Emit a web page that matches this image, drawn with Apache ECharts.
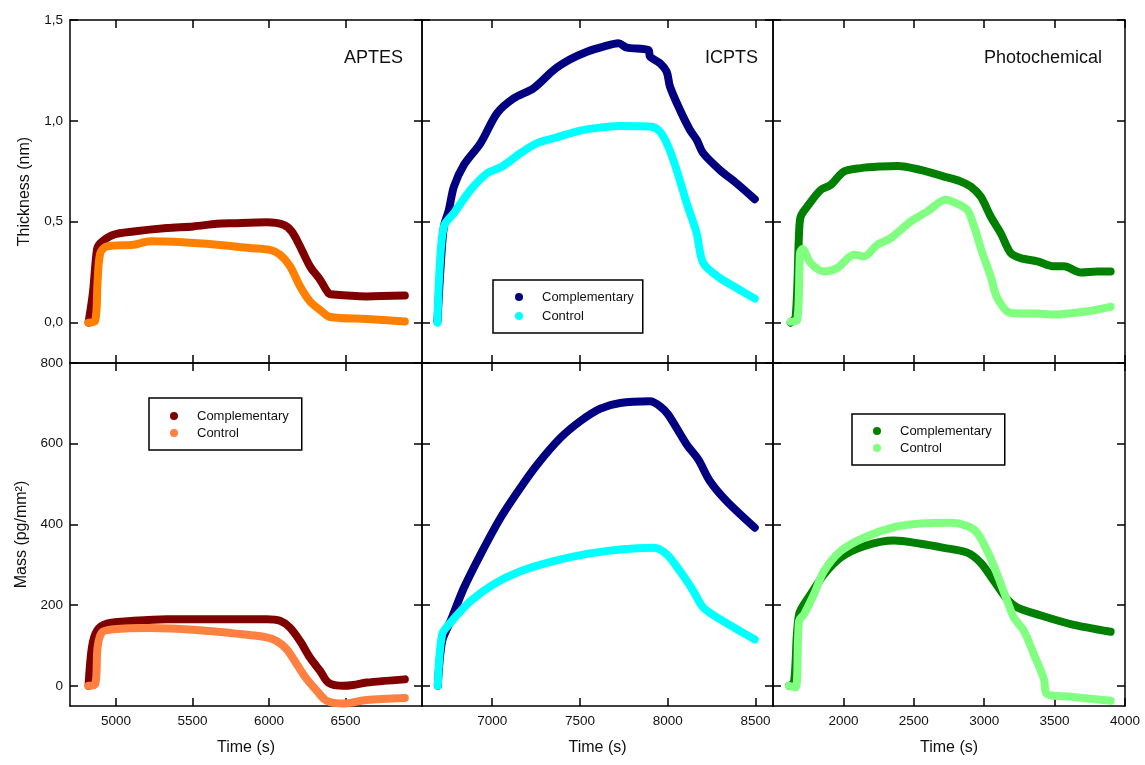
<!DOCTYPE html>
<html><head><meta charset="utf-8">
<script src="https://cdn.jsdelivr.net/npm/echarts@6/dist/echarts.min.js"></script>
<style>html,body{margin:0;padding:0;background:#fff}#c{width:1145px;height:765px}</style>
</head><body><div id="c"></div><script>
// ---------- DATA ----------
// APTES thickness (nm)
const aptesThkCompT = [4821, 4850, 4876, 4898, 4984, 5115, 5333, 5506, 5659, 5768, 5986, 6094, 6149, 6203, 6268, 6334, 6388, 6420, 6638, 6888];
const aptesThkCompV = [0, 0.15, 0.36, 0.394, 0.436, 0.452, 0.469, 0.477, 0.49, 0.493, 0.497, 0.485, 0.452, 0.378, 0.279, 0.213, 0.147, 0.139, 0.130, 0.134];
const aptesThkCtrlT = [4821, 4865, 4880, 4898, 4941, 5115, 5224, 5441, 5659, 5876, 6007, 6072, 6138, 6203, 6268, 6345, 6399, 6638, 6888];
const aptesThkCtrlV = [0, 0.01, 0.2, 0.345, 0.378, 0.386, 0.403, 0.398, 0.386, 0.37, 0.361, 0.337, 0.279, 0.18, 0.105, 0.056, 0.028, 0.018, 0.006];
// APTES mass (pg/mm2)
const aptesMassCompT = [4821, 4843, 4876, 4941, 5115, 5333, 5986, 6072, 6138, 6203, 6268, 6334, 6388, 6486, 6551, 6638, 6888];
const aptesMassCompV = [0, 95, 136, 154, 161, 165, 165, 161, 144, 111, 70, 37, 8, 0, 2, 8, 16];
const aptesMassCtrlT = [4821, 4865, 4880, 4908, 4984, 5224, 5550, 5768, 5986, 6050, 6115, 6181, 6246, 6312, 6377, 6486, 6638, 6888];
const aptesMassCtrlV = [0, 4, 95, 132, 140, 143, 138, 130, 120, 111, 91, 54, 17, -12, -37, -44, -35, -30];
// ICPTS thickness
const icptsThkCompT = [6688, 6706, 6725, 6753, 6782, 6839, 6934, 7028, 7123, 7236, 7350, 7445, 7540, 7634, 7719, 7767, 7890, 7899, 7956, 7994, 8013, 8070, 8127, 8165, 8202, 8297, 8392, 8496];
const icptsThkCompV = [0.006, 0.279, 0.477, 0.559, 0.675, 0.782, 0.89, 1.038, 1.112, 1.162, 1.252, 1.305, 1.343, 1.368, 1.385, 1.363, 1.351, 1.318, 1.286, 1.244, 1.17, 1.054, 0.955, 0.906, 0.84, 0.757, 0.691, 0.612];
const icptsThkCtrlT = [6688, 6701, 6725, 6782, 6877, 6972, 7057, 7161, 7256, 7350, 7502, 7634, 7729, 7899, 7956, 8003, 8051, 8108, 8165, 8202, 8297, 8392, 8496];
const icptsThkCtrlV = [0, 0.279, 0.477, 0.543, 0.658, 0.741, 0.774, 0.84, 0.89, 0.914, 0.952, 0.969, 0.975, 0.972, 0.947, 0.873, 0.757, 0.593, 0.444, 0.296, 0.221, 0.172, 0.119];
// ICPTS mass
const icptsMassCompT = [6690, 6715, 6763, 6839, 6934, 7047, 7161, 7256, 7388, 7502, 7616, 7729, 7899, 7956, 8003, 8108, 8174, 8241, 8335, 8496];
const icptsMassCompV = [0, 111, 161, 243, 326, 416, 491, 548, 614, 656, 687, 701, 705, 693, 672, 598, 561, 507, 458, 392];
const icptsMassCtrlT = [6690, 6715, 6763, 6877, 7009, 7161, 7350, 7540, 7729, 7918, 7994, 8070, 8146, 8202, 8297, 8411, 8496];
const icptsMassCtrlV = [0, 128, 157, 210, 252, 284, 309, 327, 338, 342, 326, 284, 235, 194, 165, 136, 115];
// Photochemical thickness
const photoThkCompT = [1626, 1661, 1685, 1697, 1744, 1839, 1910, 2004, 2123, 2265, 2384, 2549, 2714, 2833, 2904, 2975, 3046, 3117, 3188, 3259, 3378, 3496, 3567, 3685, 3804, 3898];
const photoThkCompV = [0, 0.03, 0.444, 0.526, 0.576, 0.658, 0.683, 0.749, 0.766, 0.774, 0.777, 0.757, 0.724, 0.7, 0.675, 0.625, 0.526, 0.444, 0.345, 0.32, 0.304, 0.279, 0.279, 0.249, 0.254, 0.254];
const photoThkCtrlT = [1626, 1673, 1692, 1709, 1767, 1862, 1957, 2075, 2146, 2241, 2336, 2478, 2597, 2726, 2810, 2880, 2928, 2987, 3046, 3093, 3188, 3378, 3496, 3733, 3898];
const photoThkCtrlV = [0.005, 0.015, 0.345, 0.365, 0.296, 0.254, 0.271, 0.337, 0.328, 0.386, 0.419, 0.501, 0.551, 0.609, 0.589, 0.559, 0.477, 0.345, 0.229, 0.122, 0.048, 0.045, 0.04, 0.056, 0.078];
// Photochemical mass
const photoMassCompT = [1614, 1649, 1685, 1768, 1862, 1981, 2146, 2359, 2549, 2714, 2880, 2975, 3069, 3164, 3235, 3378, 3614, 3898];
const photoMassCompV = [0, 8, 177, 227, 276, 318, 346, 360, 352, 342, 330, 305, 260, 214, 194, 177, 153, 134];
const photoMassCtrlT = [1614, 1661, 1685, 1720, 1791, 1862, 1981, 2146, 2359, 2549, 2762, 2880, 2951, 3022, 3093, 3164, 3211, 3282, 3353, 3424, 3448, 3614, 3898];
const photoMassCtrlV = [0, -4, 161, 177, 227, 284, 334, 367, 393, 402, 404, 396, 379, 334, 276, 210, 169, 136, 78, 17, -21, -27, -37];

// axis ranges and ticks
const xRanges = [[4700, 7000], [6600, 8600], [1500, 4000]];
const xTicks = [[5000, 5500, 6000, 6500], [7000, 7500, 8000, 8500], [2000, 2500, 3000, 3500, 4000]];
const thkRange = [-0.2, 1.5];
const thkTicks = [0, 0.5, 1.0, 1.5];
const massRange = [-50, 800];
const massTicks = [0, 200, 400, 600, 800];
const panelTitles = ['APTES', 'ICPTS', 'Photochemical'];
const legendLabels = ['Complementary', 'Control'];

// ---------- CHART ----------
const FONT = 'Liberation Sans, Arial, Helvetica, sans-serif';
const lefts = [70, 422, 773], widths = [352, 351, 352], tops = [20, 363], H = 343;
const grids = [], xAxes = [], yAxes = [];
const axisLine = { show: true, onZero: false, lineStyle: { color: '#000', width: 1.5 } };
function tick(vals) { return { show: true, inside: true, length: 8, lineStyle: { color: '#000', width: 1.5 }, customValues: vals }; }
for (let r = 0; r < 2; r++) {
  for (let c = 0; c < 3; c++) {
    const gi = r * 3 + c;
    grids.push({ left: lefts[c], top: tops[r], width: widths[c], height: H, containLabel: false });
    const [xmin, xmax] = xRanges[c];
    const bottomRow = r === 1;
    xAxes.push({
      type: 'value', gridIndex: gi, position: 'bottom', min: xmin, max: xmax,
      axisLine, axisTick: tick(xTicks[c]), splitLine: { show: false },
      axisLabel: { show: bottomRow, customValues: xTicks[c], margin: 8, fontSize: 13.5, color: '#111', fontFamily: FONT, formatter: v => String(v) },
      name: bottomRow ? 'Time (s)' : '', nameLocation: 'middle', nameGap: 34,
      nameTextStyle: { fontSize: 16, color: '#111', fontFamily: FONT }
    });
    xAxes.push({
      type: 'value', gridIndex: gi, position: 'top', min: xmin, max: xmax,
      axisLine, axisTick: tick(xTicks[c]), splitLine: { show: false }, axisLabel: { show: false }
    });
    const yr = r === 0 ? thkRange : massRange;
    const yt = r === 0 ? thkTicks : massTicks;
    yAxes.push({
      type: 'value', gridIndex: gi, position: 'left', min: yr[0], max: yr[1],
      axisLine, axisTick: tick(yt), splitLine: { show: false },
      axisLabel: {
        show: c === 0, customValues: yt, margin: 7, fontSize: 13.5, color: '#111', fontFamily: FONT,
        formatter: r === 0 ? (v => v.toFixed(1).replace('.', ',')) : (v => String(v))
      },
      name: c === 0 ? (r === 0 ? 'Thickness (nm)' : 'Mass (pg/mm²)') : '',
      nameLocation: 'middle', nameGap: r === 0 ? 37 : 40,
      nameTextStyle: { fontSize: 16, color: '#111', fontFamily: FONT }
    });
    yAxes.push({
      type: 'value', gridIndex: gi, position: 'right', min: yr[0], max: yr[1],
      axisLine, axisTick: tick(yt), splitLine: { show: false }, axisLabel: { show: false }
    });
  }
}
function zip(t, v) { return t.map((x, i) => [x, v[i]]); }
function ser(name, gi, t, v, color) {
  return {
    name, type: 'line', xAxisIndex: gi * 2, yAxisIndex: gi * 2, data: zip(t, v),
    showSymbol: false, symbol: 'circle', smooth: 0.3, color,
    lineStyle: { width: 8, color, cap: 'round', join: 'round' }, silent: true, animation: false
  };
}
const series = [
  ser('APTES-T|Complementary', 0, aptesThkCompT, aptesThkCompV, '#800000'),
  ser('APTES-T|Control', 0, aptesThkCtrlT, aptesThkCtrlV, '#FF8000'),
  ser('ICPTS-T|Complementary', 1, icptsThkCompT, icptsThkCompV, '#000080'),
  ser('ICPTS-T|Control', 1, icptsThkCtrlT, icptsThkCtrlV, '#00FFFF'),
  ser('PHOTO-T|Complementary', 2, photoThkCompT, photoThkCompV, '#008000'),
  ser('PHOTO-T|Control', 2, photoThkCtrlT, photoThkCtrlV, '#80FF80'),
  ser('APTES-M|Complementary', 3, aptesMassCompT, aptesMassCompV, '#800000'),
  ser('APTES-M|Control', 3, aptesMassCtrlT, aptesMassCtrlV, '#FF8040'),
  ser('ICPTS-M|Complementary', 4, icptsMassCompT, icptsMassCompV, '#000080'),
  ser('ICPTS-M|Control', 4, icptsMassCtrlT, icptsMassCtrlV, '#00FFFF'),
  ser('PHOTO-M|Complementary', 5, photoMassCompT, photoMassCompV, '#008000'),
  ser('PHOTO-M|Control', 5, photoMassCtrlT, photoMassCtrlV, '#80FF80')
];
function legend(prefix, left, top, padding, gap) {
  return {
    orient: 'vertical', left, top, padding, itemGap: gap, itemWidth: 8, itemHeight: 8, icon: 'circle',
    borderColor: '#000', borderWidth: 1.5, selectedMode: false,
    data: legendLabels.map(l => prefix + '|' + l),
    formatter: n => n.split('|')[1],
    textStyle: { fontSize: 13, lineHeight: 14, color: '#111', fontFamily: FONT, padding: [0, 0, 0, 14] }
  };
}
const titleRights = [742, 387, 43];
const option = {
  backgroundColor: '#fff',
  animation: false,
  title: panelTitles.map((t, i) => ({
    text: t, right: titleRights[i], top: 49, padding: 0,
    textStyle: { fontSize: 18, fontWeight: 'normal', color: '#111', fontFamily: FONT }
  })),
  legend: [
    legend('ICPTS-T', 493, 280, [10, 9, 10, 22], 5),
    legend('APTES-M', 149, 398, [11, 13, 10, 21], 3),
    legend('PHOTO-M', 852, 414, [10, 13, 10, 21], 3)
  ],
  grid: grids, xAxis: xAxes, yAxis: yAxes, series
};
const chart = echarts.init(document.getElementById('c'), null, { renderer: 'canvas' });
chart.setOption(option);
</script></body></html>
